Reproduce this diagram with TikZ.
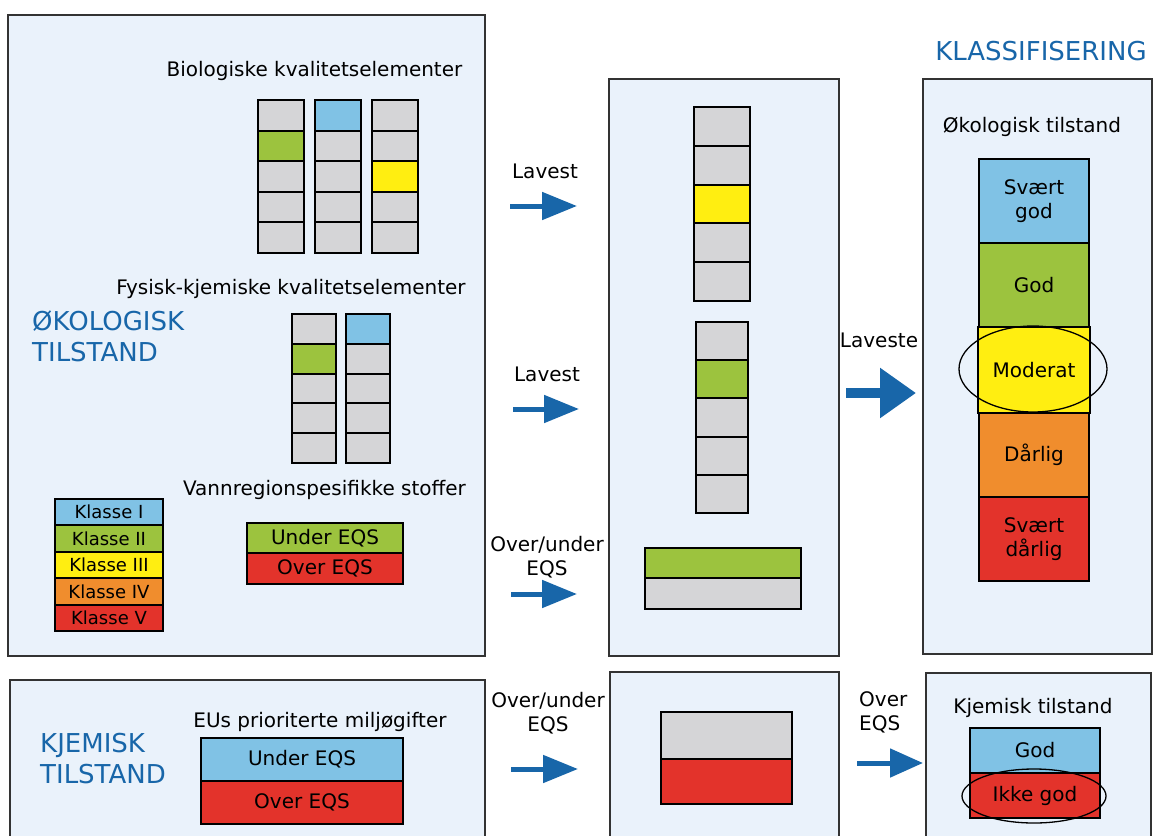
\documentclass[tikz,border=0pt]{standalone}
\usepackage{fontspec}
\setmainfont{DejaVu Sans}
\usetikzlibrary{arrows.meta,positioning,shapes.geometric}
\definecolor{panelfill}{HTML}{EAF2FB}
\definecolor{cellgrey}{HTML}{D5D5D7}
\definecolor{klgreen}{HTML}{9CC33E}
\definecolor{klblue}{HTML}{80C2E5}
\definecolor{klyellow}{HTML}{FFEE11}
\definecolor{klorange}{HTML}{F08D2D}
\definecolor{klred}{HTML}{E3332B}
\definecolor{headblue}{HTML}{1866A9}

\begin{document}
\begin{tikzpicture}[x=1pt,y=-1pt,
	panel/.style={draw=black!80, fill=panelfill, line width=1.3pt, inner sep=0},
	cell/.style={draw=black, line width=2pt, inner sep=0, fill=cellgrey, align=center, font=\fontsize{20}{24}\selectfont},
	txt/.style={inner sep=0, font=\fontsize{20}{24}\selectfont},
	head/.style={inner sep=0, text=headblue, font=\fontsize{26}{31}\selectfont},
	flow/.style={draw=headblue, line width=5pt, -{Triangle[length=35pt,width=27pt]}},
	ring/.style={ellipse, draw=black, line width=1.3pt, inner sep=0}]
		\useasboundingbox (0,0) rectangle (1155,835);
		\clip (0,0) rectangle (1155,835);

		% panels
		\node[panel, minimum width=477pt, minimum height=641pt] (eco) at (246.5,335.5) {};
		\node[panel, minimum width=230pt, minimum height=577pt] (mid) at (724,367.5) {};
		\node[panel, minimum width=229pt, minimum height=575pt] (cls) at (1037.5,366.5) {};
		\node[panel, minimum width=475pt, minimum height=170pt] (chem) at (247.5,765) {};
		\node[panel, minimum width=229pt, minimum height=170pt] (midchem) at (724.5,757) {};
		\node[panel, minimum width=225pt, minimum height=170pt] (clschem) at (1038.5,758) {};

		% biologiske kvalitetselementer
		\node[txt, anchor=base] (biotitle) at (314.5,76) {Biologiske kvalitetselementer};
		\foreach \c/\x/\h/\f in {a/281/2/klgreen, b/338/1/klblue, c/395/3/klyellow}
			\foreach \r in {1,...,5} {
				\ifnum\r=\h \def\cellfill{\f}\else\def\cellfill{cellgrey}\fi
				\node[cell, fill=\cellfill, minimum width=46pt, minimum height=30.6pt] (bio\c\r) at (\x,{100+30.6*(\r-0.5)}) {};
			}

		% fysisk-kjemiske kvalitetselementer
		\node[txt, anchor=base] (fystitle) at (291,294) {Fysisk-kjemiske kvalitetselementer};
		\foreach \c/\x/\h/\f in {a/314/2/klgreen, b/368/1/klblue}
			\foreach \r in {1,...,5} {
				\ifnum\r=\h \def\cellfill{\f}\else\def\cellfill{cellgrey}\fi
				\node[cell, fill=\cellfill, minimum width=44pt, minimum height=29.8pt] (fys\c\r) at (\x,{314+29.8*(\r-0.5)}) {};
			}

		\node[head, anchor=base west] (ecohead) at (32,330) {ØKOLOGISK};
		\node[head, anchor=base west] (ecohead2) at (32,361) {TILSTAND};

		% vannregionspesifikke stoffer
		\node[txt, anchor=base] (vrtitle) at (324.5,495) {Vannregionspesifikke stoffer};
		\node[cell, fill=klgreen, minimum width=156pt, minimum height=30pt] (vrunder) at (325,538) {Under EQS};
		\node[cell, fill=klred, minimum width=156pt, minimum height=31pt] (vrover) at (325,568.5) {Over EQS};

		% klasser
		\node[cell, fill=klblue, minimum width=108pt, minimum height=26.4pt, font=\fontsize{18}{20}\selectfont] (kl1) at (109,512.2) {Klasse I};
		\node[cell, fill=klgreen, minimum width=108pt, minimum height=26.4pt, font=\fontsize{18}{20}\selectfont] (kl2) at (109,538.6) {Klasse II};
		\node[cell, fill=klyellow, minimum width=108pt, minimum height=26.4pt, font=\fontsize{18}{20}\selectfont] (kl3) at (109,565) {Klasse III};
		\node[cell, fill=klorange, minimum width=108pt, minimum height=26.4pt, font=\fontsize{18}{20}\selectfont] (kl4) at (109,591.4) {Klasse IV};
		\node[cell, fill=klred, minimum width=108pt, minimum height=26.4pt, font=\fontsize{18}{20}\selectfont] (kl5) at (109,617.8) {Klasse V};

		% laveste i hver gruppe
		\foreach \r in {1,...,5} {
			\ifnum\r=3 \def\cellfill{klyellow}\else\def\cellfill{cellgrey}\fi
			\node[cell, fill=\cellfill, minimum width=56pt, minimum height=38.8pt] (minbio\r) at (722,{107+38.8*(\r-0.5)}) {};
		}
		\foreach \r in {1,...,5} {
			\ifnum\r=2 \def\cellfill{klgreen}\else\def\cellfill{cellgrey}\fi
			\node[cell, fill=\cellfill, minimum width=52pt, minimum height=38.2pt] (minfys\r) at (722,{322+38.2*(\r-0.5)}) {};
		}
		\node[cell, fill=klgreen, minimum width=156pt, minimum height=30pt] (minvr1) at (723,563) {};
		\node[cell, minimum width=156pt, minimum height=31pt] (minvr2) at (723,593.5) {};

		% klassifisering
		\node[head, anchor=base] (clshead) at (1041,60) {KLASSIFISERING};
		\node[txt, anchor=base] (ecostate) at (1032,132) {Økologisk tilstand};
		\node[cell, fill=klblue, minimum width=110pt, minimum height=84pt] (svgod) at (1034,201) {Svært\\god};
		\node[cell, fill=klgreen, minimum width=110pt, minimum height=84pt] (god) at (1034,285) {God};
		\node[cell, fill=klyellow, minimum width=112pt, minimum height=86pt] (moderat) at (1034,370) {Moderat};
		\node[cell, fill=klorange, minimum width=110pt, minimum height=84pt] (darlig) at (1034,455) {Dårlig};
		\node[cell, fill=klred, minimum width=110pt, minimum height=84pt] (svdarlig) at (1034,539) {Svært\\dårlig};
		\node[ring, minimum width=148pt, minimum height=86pt] (modring) at (1033,369) {};

		% kjemisk tilstand
		\node[head, anchor=base west] (chemhead) at (40,752) {KJEMISK};
		\node[head, anchor=base west] (chemhead2) at (40,783) {TILSTAND};
		\node[txt, anchor=base] (eutitle) at (320,727) {EUs prioriterte miljøgifter};
		\node[cell, fill=klblue, minimum width=202pt, minimum height=43pt] (euunder) at (302,759.5) {Under EQS};
		\node[cell, fill=klred, minimum width=202pt, minimum height=43pt] (euover) at (302,802.5) {Over EQS};

		\node[cell, minimum width=131pt, minimum height=47pt] (mineu1) at (726.5,735.5) {};
		\node[cell, fill=klred, minimum width=131pt, minimum height=45pt] (mineu2) at (726.5,781.5) {};

		\node[txt, anchor=base] (chemstate) at (1033,713) {Kjemisk tilstand};
		\node[cell, fill=klblue, minimum width=130pt, minimum height=45pt] (chgod) at (1035,750.5) {God};
		\node[cell, fill=klred, minimum width=130pt, minimum height=45pt] (chikke) at (1035,795.5) {Ikke god};
		\node[ring, minimum width=144pt, minimum height=54pt] (ikkering) at (1034,796) {};

		% piler
		\coordinate (a1s) at (510,206);
		\coordinate (a1e) at (577,206);
		\coordinate (a2s) at (513,409);
		\coordinate (a2e) at (579,409);
		\coordinate (a3s) at (511,594);
		\coordinate (a3e) at (577,594);
		\coordinate (a4s) at (846,393);
		\coordinate (a4e) at (916,393);
		\coordinate (a5s) at (511,769);
		\coordinate (a5e) at (578,769);
		\coordinate (a6s) at (857,763);
		\coordinate (a6e) at (923,763);

		\draw[flow] (a1s) -- (a1e);
		\draw[flow] (a2s) -- (a2e);
		\draw[flow] (a3s) -- (a3e);
		\draw[flow, line width=10pt, -{Triangle[length=36pt,width=48pt]}] (a4s) -- (a4e);
		\draw[flow] (a5s) -- (a5e);
		\draw[flow, -{Triangle[length=33pt,width=28pt]}] (a6s) -- (a6e);

		\node[txt, anchor=base] (lav1) at (545,178) {Lavest};
		\node[txt, anchor=base] (lav2) at (547,381) {Lavest};
		\node[txt, anchor=north, align=center] (ou1) at (547,536) {Over/under\\EQS};
		\node[txt, anchor=base] (lav3) at (879,347) {Laveste};
		\node[txt, anchor=north, align=center] (ou2) at (548,692) {Over/under\\EQS};
		\node[txt, anchor=north west, align=left] (over) at (859,691) {Over\\EQS};
	\end{tikzpicture}
\end{document}
